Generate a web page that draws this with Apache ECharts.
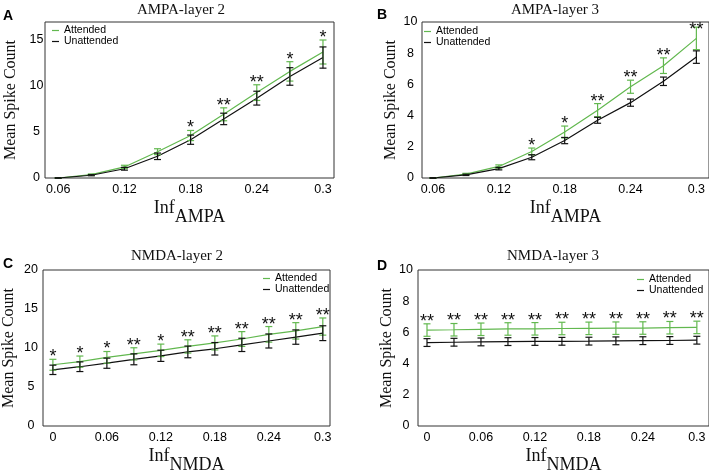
<!DOCTYPE html>
<html>
<head>
<meta charset="utf-8">
<script src="https://cdn.jsdelivr.net/npm/echarts@6/dist/echarts.min.js"></script>
<style>
  html, body { margin: 0; padding: 0; background: #fff; }
  #chart { width: 709px; height: 476px; }
</style>
</head>
<body>
<div id="chart"></div>
<script>
// x values
const ampaX = [0.06, 0.09, 0.12, 0.15, 0.18, 0.21, 0.24, 0.27, 0.3];
const nmdaX = [0, 0.03, 0.06, 0.09, 0.12, 0.15, 0.18, 0.21, 0.24, 0.27, 0.3];

// A: AMPA-layer 2
const a2Att = [0, 0.36, 1.2, 2.85, 4.6, 6.9, 9.25, 11.55, 13.65];
const a2AttErr = [0.03, 0.08, 0.18, 0.32, 0.55, 0.7, 0.85, 1.05, 1.3];
const a2Un = [0, 0.3, 1.0, 2.35, 4.15, 6.4, 8.65, 11.0, 13.05];
const a2UnErr = [0.03, 0.06, 0.15, 0.35, 0.5, 0.62, 0.75, 0.95, 1.15];
const a2Stars = [0, 0, 0, 0, 1, 2, 2, 1, 1];

// B: AMPA-layer 3
const a3Att = [0, 0.25, 0.74, 1.7, 2.95, 4.35, 5.85, 7.2, 8.95];
const a3AttErr = [0.02, 0.05, 0.1, 0.22, 0.38, 0.42, 0.42, 0.5, 0.72];
const a3Un = [0, 0.2, 0.6, 1.33, 2.4, 3.7, 4.83, 6.2, 7.75];
const a3UnErr = [0.02, 0.04, 0.08, 0.16, 0.2, 0.19, 0.23, 0.27, 0.4];
const a3Stars = [0, 0, 0, 1, 1, 2, 2, 2, 2];

// C: NMDA-layer 2
const n2Att = [7.85, 8.25, 8.8, 9.25, 9.7, 10.2, 10.65, 11.15, 11.75, 12.2, 12.75];
const n2AttErr = [0.7, 0.72, 0.75, 0.78, 0.8, 0.85, 0.9, 0.95, 1.0, 1.05, 1.1];
const n2Un = [7.2, 7.6, 8.05, 8.55, 9.0, 9.5, 9.9, 10.4, 10.9, 11.4, 11.9];
const n2UnErr = [0.6, 0.62, 0.65, 0.7, 0.72, 0.75, 0.8, 0.85, 0.9, 0.92, 0.95];
const n2Stars = [1, 1, 1, 2, 1, 2, 2, 2, 2, 2, 2];

// D: NMDA-layer 3
const n3Att = [6.15, 6.17, 6.2, 6.22, 6.23, 6.25, 6.26, 6.27, 6.28, 6.3, 6.32];
const n3AttErr = [0.4, 0.4, 0.4, 0.4, 0.4, 0.4, 0.4, 0.4, 0.4, 0.4, 0.4];
const n3Un = [5.35, 5.37, 5.39, 5.41, 5.42, 5.43, 5.44, 5.46, 5.47, 5.48, 5.5];
const n3UnErr = [0.25, 0.25, 0.25, 0.25, 0.25, 0.25, 0.25, 0.25, 0.25, 0.25, 0.25];
const n3Stars = [2, 2, 2, 2, 2, 2, 2, 2, 2, 2, 2];

// tick labels
const ampaTicks = [0.06, 0.12, 0.18, 0.24, 0.3];
const nmdaTicks = [0, 0.06, 0.12, 0.18, 0.24, 0.3];
const yTicksA = [0, 5, 10, 15];
const yTicksB = [0, 2, 4, 6, 8, 10];
const yTicksC = [0, 5, 10, 15, 20];
const yTicksD = [0, 2, 4, 6, 8, 10];

const GREEN = "#62b84f";
const BLACK = "#111";
const SERIF = "Liberation Serif";
const SANS = "Liberation Sans";

const chart = echarts.init(document.getElementById("chart"));

function errRender(color) {
  return function (params, api) {
    const x = api.value(0), y = api.value(1), e = api.value(2);
    const top = api.coord([x, y + e]);
    const bot = api.coord([x, y - e]);
    const st = { stroke: color, lineWidth: 1.2 };
    const w = 3.5;
    return {
      type: "group",
      children: [
        { type: "line", shape: { x1: top[0], y1: top[1], x2: bot[0], y2: bot[1] }, style: st },
        { type: "line", shape: { x1: top[0] - w, y1: top[1], x2: top[0] + w, y2: top[1] }, style: st },
        { type: "line", shape: { x1: bot[0] - w, y1: bot[1], x2: bot[0] + w, y2: bot[1] }, style: st }
      ]
    };
  };
}

// significance stars above the attended error bar
function starRender(params, api) {
  const n = api.value(2);
  if (!n) return null;
  const p = api.coord([api.value(0), api.value(1)]);
  return {
    type: "text",
    x: p[0],
    y: Math.max(p[1] - 2, 30),
    style: {
      text: "*".repeat(n),
      fontFamily: SANS,
      fontSize: 18,
      fill: "#111",
      align: "center",
      verticalAlign: "middle"
    }
  };
}

function pairs(xs, ys) {
  return xs.map((x, i) => [x, ys[i]]);
}
function triples(xs, ys, es) {
  return xs.map((x, i) => [x, ys[i], es[i]]);
}

// one panel = 5 series on grid index g
function panelSeries(g, xs, att, attErr, un, unErr, stars) {
  return [
    { name: "Attended", type: "line", xAxisIndex: g, yAxisIndex: g, data: pairs(xs, att),
      symbol: "none", lineStyle: { color: GREEN, width: 1.2 }, itemStyle: { color: GREEN }, z: 3 },
    { name: "Unattended", type: "line", xAxisIndex: g, yAxisIndex: g, data: pairs(xs, un),
      symbol: "none", lineStyle: { color: BLACK, width: 1.2 }, itemStyle: { color: BLACK }, z: 3 },
    { name: "errAtt" + g, type: "custom", xAxisIndex: g, yAxisIndex: g,
      data: triples(xs, att, attErr), renderItem: errRender(GREEN), z: 4 },
    { name: "errUn" + g, type: "custom", xAxisIndex: g, yAxisIndex: g,
      data: triples(xs, un, unErr), renderItem: errRender(BLACK), z: 5 },
    { name: "stars" + g, type: "custom", xAxisIndex: g, yAxisIndex: g,
      data: xs.map((x, i) => [x, att[i] + attErr[i], stars[i]]), renderItem: starRender, z: 6 }
  ];
}

function xAxis(g, min, max, ticks, sub) {
  return {
    type: "value", gridIndex: g, min: min, max: max,
    axisLine: { show: false }, axisTick: { show: false }, splitLine: { show: false },
    axisLabel: {
      customValues: ticks, color: "#000", fontFamily: SANS, fontSize: 12.5, margin: 5,
      formatter: v => String(+v.toFixed(2))
    },
    name: "{a|Inf}{b|" + sub + "}",
    nameLocation: "middle",
    nameGap: 21,
    nameTextStyle: {
      rich: {
        a: { fontFamily: SERIF, fontSize: 18, color: "#111", verticalAlign: "top", lineHeight: 20 },
        b: { fontFamily: SERIF, fontSize: 18, color: "#111", verticalAlign: "bottom", lineHeight: 27 }
      }
    }
  };
}

function yAxis(g, max, ticks, margin, gap) {
  return {
    type: "value", gridIndex: g, min: 0, max: max,
    axisLine: { show: false }, axisTick: { show: false }, splitLine: { show: false },
    axisLabel: { customValues: ticks, color: "#000", fontFamily: SANS, fontSize: 12.5, align: "center", margin: margin },
    name: "Mean Spike Count",
    nameLocation: "middle",
    nameGap: gap,
    nameTextStyle: { fontFamily: SERIF, fontSize: 16, color: "#111" }
  };
}

function legend(left, top) {
  return {
    data: ["Attended", "Unattended"],
    orient: "vertical", align: "left", left: left, top: top,
    icon: "rect", itemWidth: 7, itemHeight: 1.2, itemGap: 0, padding: 0,
    selectedMode: false,
    textStyle: { fontFamily: SANS, fontSize: 10.5, color: "#000", lineHeight: 10 }
  };
}

function title(text, cx, top) {
  return { text: text, left: cx, top: top, textAlign: "center", padding: 0,
    textStyle: { fontFamily: SERIF, fontSize: 15, fontWeight: "normal", color: "#111" } };
}
function letter(text, left, top) {
  return { text: text, left: left, top: top, padding: 0,
    textStyle: { fontFamily: SANS, fontSize: 14, fontWeight: "bold", color: "#000" } };
}

chart.setOption({
  animation: false,
  backgroundColor: "#fff",
  title: [
    title("AMPA-layer 2", 181, 3),
    title("AMPA-layer 3", 555, 3),
    title("NMDA-layer 2", 177, 249),
    title("NMDA-layer 3", 553, 249),
    letter("A", 3, 9),
    letter("B", 377, 8),
    letter("C", 3, 257),
    letter("D", 377, 259)
  ],
  legend: [legend(52, 25), legend(424, 26), legend(263, 273), legend(637, 274)],
  grid: [
    { left: 45, right: 375, top: 22, bottom: 298, show: true, borderColor: "#333", borderWidth: 1 },
    { left: 422, right: -2, top: 22, bottom: 298, show: true, borderColor: "#333", borderWidth: 1 },
    { left: 42, right: 379, top: 270, bottom: 50, show: true, borderColor: "#333", borderWidth: 1 },
    { left: 418, right: -2, top: 270, bottom: 50, show: true, borderColor: "#333", borderWidth: 1 }
  ],
  xAxis: [
    xAxis(0, 0.048, 0.31, ampaTicks, "AMPA"),
    xAxis(1, 0.05, 0.3115, ampaTicks, "AMPA"),
    xAxis(2, -0.011, 0.308, nmdaTicks, "NMDA"),
    xAxis(3, -0.01, 0.3135, nmdaTicks, "NMDA")
  ],
  yAxis: [
    yAxis(0, 16.9, yTicksA, 8.5, 26),
    yAxis(1, 10, yTicksB, 11.5, 23),
    yAxis(2, 20, yTicksC, 12, 26),
    yAxis(3, 10, yTicksD, 12, 23)
  ],
  series: [].concat(
    panelSeries(0, ampaX, a2Att, a2AttErr, a2Un, a2UnErr, a2Stars),
    panelSeries(1, ampaX, a3Att, a3AttErr, a3Un, a3UnErr, a3Stars),
    panelSeries(2, nmdaX, n2Att, n2AttErr, n2Un, n2UnErr, n2Stars),
    panelSeries(3, nmdaX, n3Att, n3AttErr, n3Un, n3UnErr, n3Stars)
  )
});
</script>
</body>
</html>
